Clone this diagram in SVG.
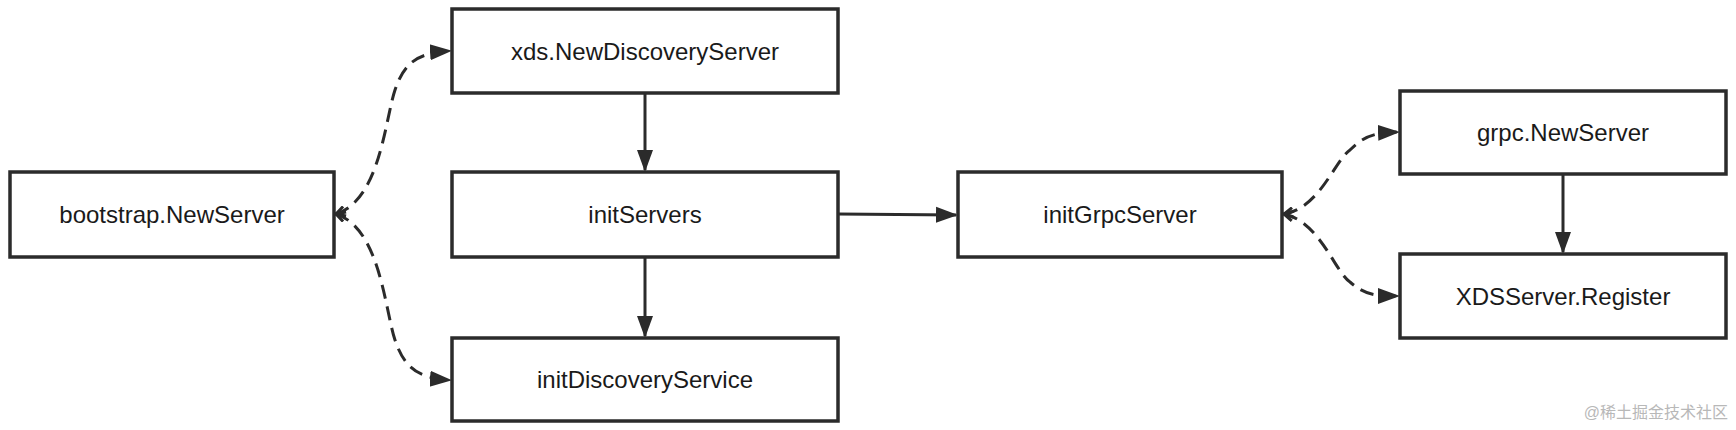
<svg xmlns="http://www.w3.org/2000/svg" width="1736" height="430" viewBox="0 0 1736 430">
<style>
.n rect{fill:#fff;stroke:#2b2b2b;stroke-width:3.5}
.n text{font-family:"Liberation Sans",Arial,sans-serif;font-size:24px;fill:#1a1a1a;text-anchor:middle;dominant-baseline:central}
.c path{fill:none;stroke:#2b2b2b;stroke-width:3}
.d{stroke-dasharray:14 8}
</style>
<defs>
<marker id="a" markerWidth="12" markerHeight="12" refX="11" refY="6" orient="auto" markerUnits="userSpaceOnUse" viewBox="0 0 12 12"><path d="M0,0 L12,6 L0,12 z" fill="#2b2b2b"/></marker>
<marker id="a2" markerWidth="22" markerHeight="22" refX="20" refY="8" orient="auto" markerUnits="userSpaceOnUse" viewBox="0 0 22 16"><path d="M0,0 L22,8 L0,16 z" fill="#2b2b2b"/></marker>
<marker id="s" markerWidth="12" markerHeight="12" refX="1" refY="6" orient="auto" markerUnits="userSpaceOnUse" viewBox="0 0 12 12"><path d="M10,1 L1,6 L10,11" fill="none" stroke="#2b2b2b" stroke-width="3"/></marker>
</defs>
<g class="c">
<path class="d" d="M336,214 C380,200 385,120 395,90 C405,60 420,53 450,51" marker-start="url(#s)" marker-end="url(#a2)"/>
<path class="d" d="M336,214 C380,228 385,310 395,340 C405,370 420,378 450,380" marker-start="url(#s)" marker-end="url(#a2)"/>
<path d="M645,93 L645,170" marker-end="url(#a2)"/>
<path d="M645,257 L645,336" marker-end="url(#a2)"/>
<path d="M838,214 L956,215" marker-end="url(#a2)"/>
<path class="d" d="M1284,214 C1320,208 1335,160 1350,150 C1365,135 1375,133 1398,132" marker-start="url(#s)" marker-end="url(#a2)"/>
<path class="d" d="M1284,214 C1320,222 1335,272 1350,282 C1365,295 1375,296 1398,296" marker-start="url(#s)" marker-end="url(#a2)"/>
<path d="M1563,174 L1563,252" marker-end="url(#a2)"/>
</g>
<g id="bootstrap" class="n"><rect x="10" y="172" width="324" height="85"/><text x="172" y="214">bootstrap.NewServer</text></g>
<g id="xds" class="n"><rect x="452" y="9" width="386" height="84"/><text x="645" y="51">xds.NewDiscoveryServer</text></g>
<g id="initServers" class="n"><rect x="452" y="172" width="386" height="85"/><text x="645" y="214">initServers</text></g>
<g id="initDiscoveryService" class="n"><rect x="452" y="338" width="386" height="83"/><text x="645" y="379">initDiscoveryService</text></g>
<g id="initGrpcServer" class="n"><rect x="958" y="172" width="324" height="85"/><text x="1120" y="214">initGrpcServer</text></g>
<g id="grpcNewServer" class="n"><rect x="1400" y="91" width="326" height="83"/><text x="1563" y="132">grpc.NewServer</text></g>
<g id="xdsRegister" class="n"><rect x="1400" y="254" width="326" height="84"/><text x="1563" y="296">XDSServer.Register</text></g>
<text x="1728" y="418" text-anchor="end" font-family="'Liberation Sans','Noto Sans CJK SC',sans-serif" font-size="16" fill="#b8b8b8">@稀土掘金技术社区</text>
</svg>
